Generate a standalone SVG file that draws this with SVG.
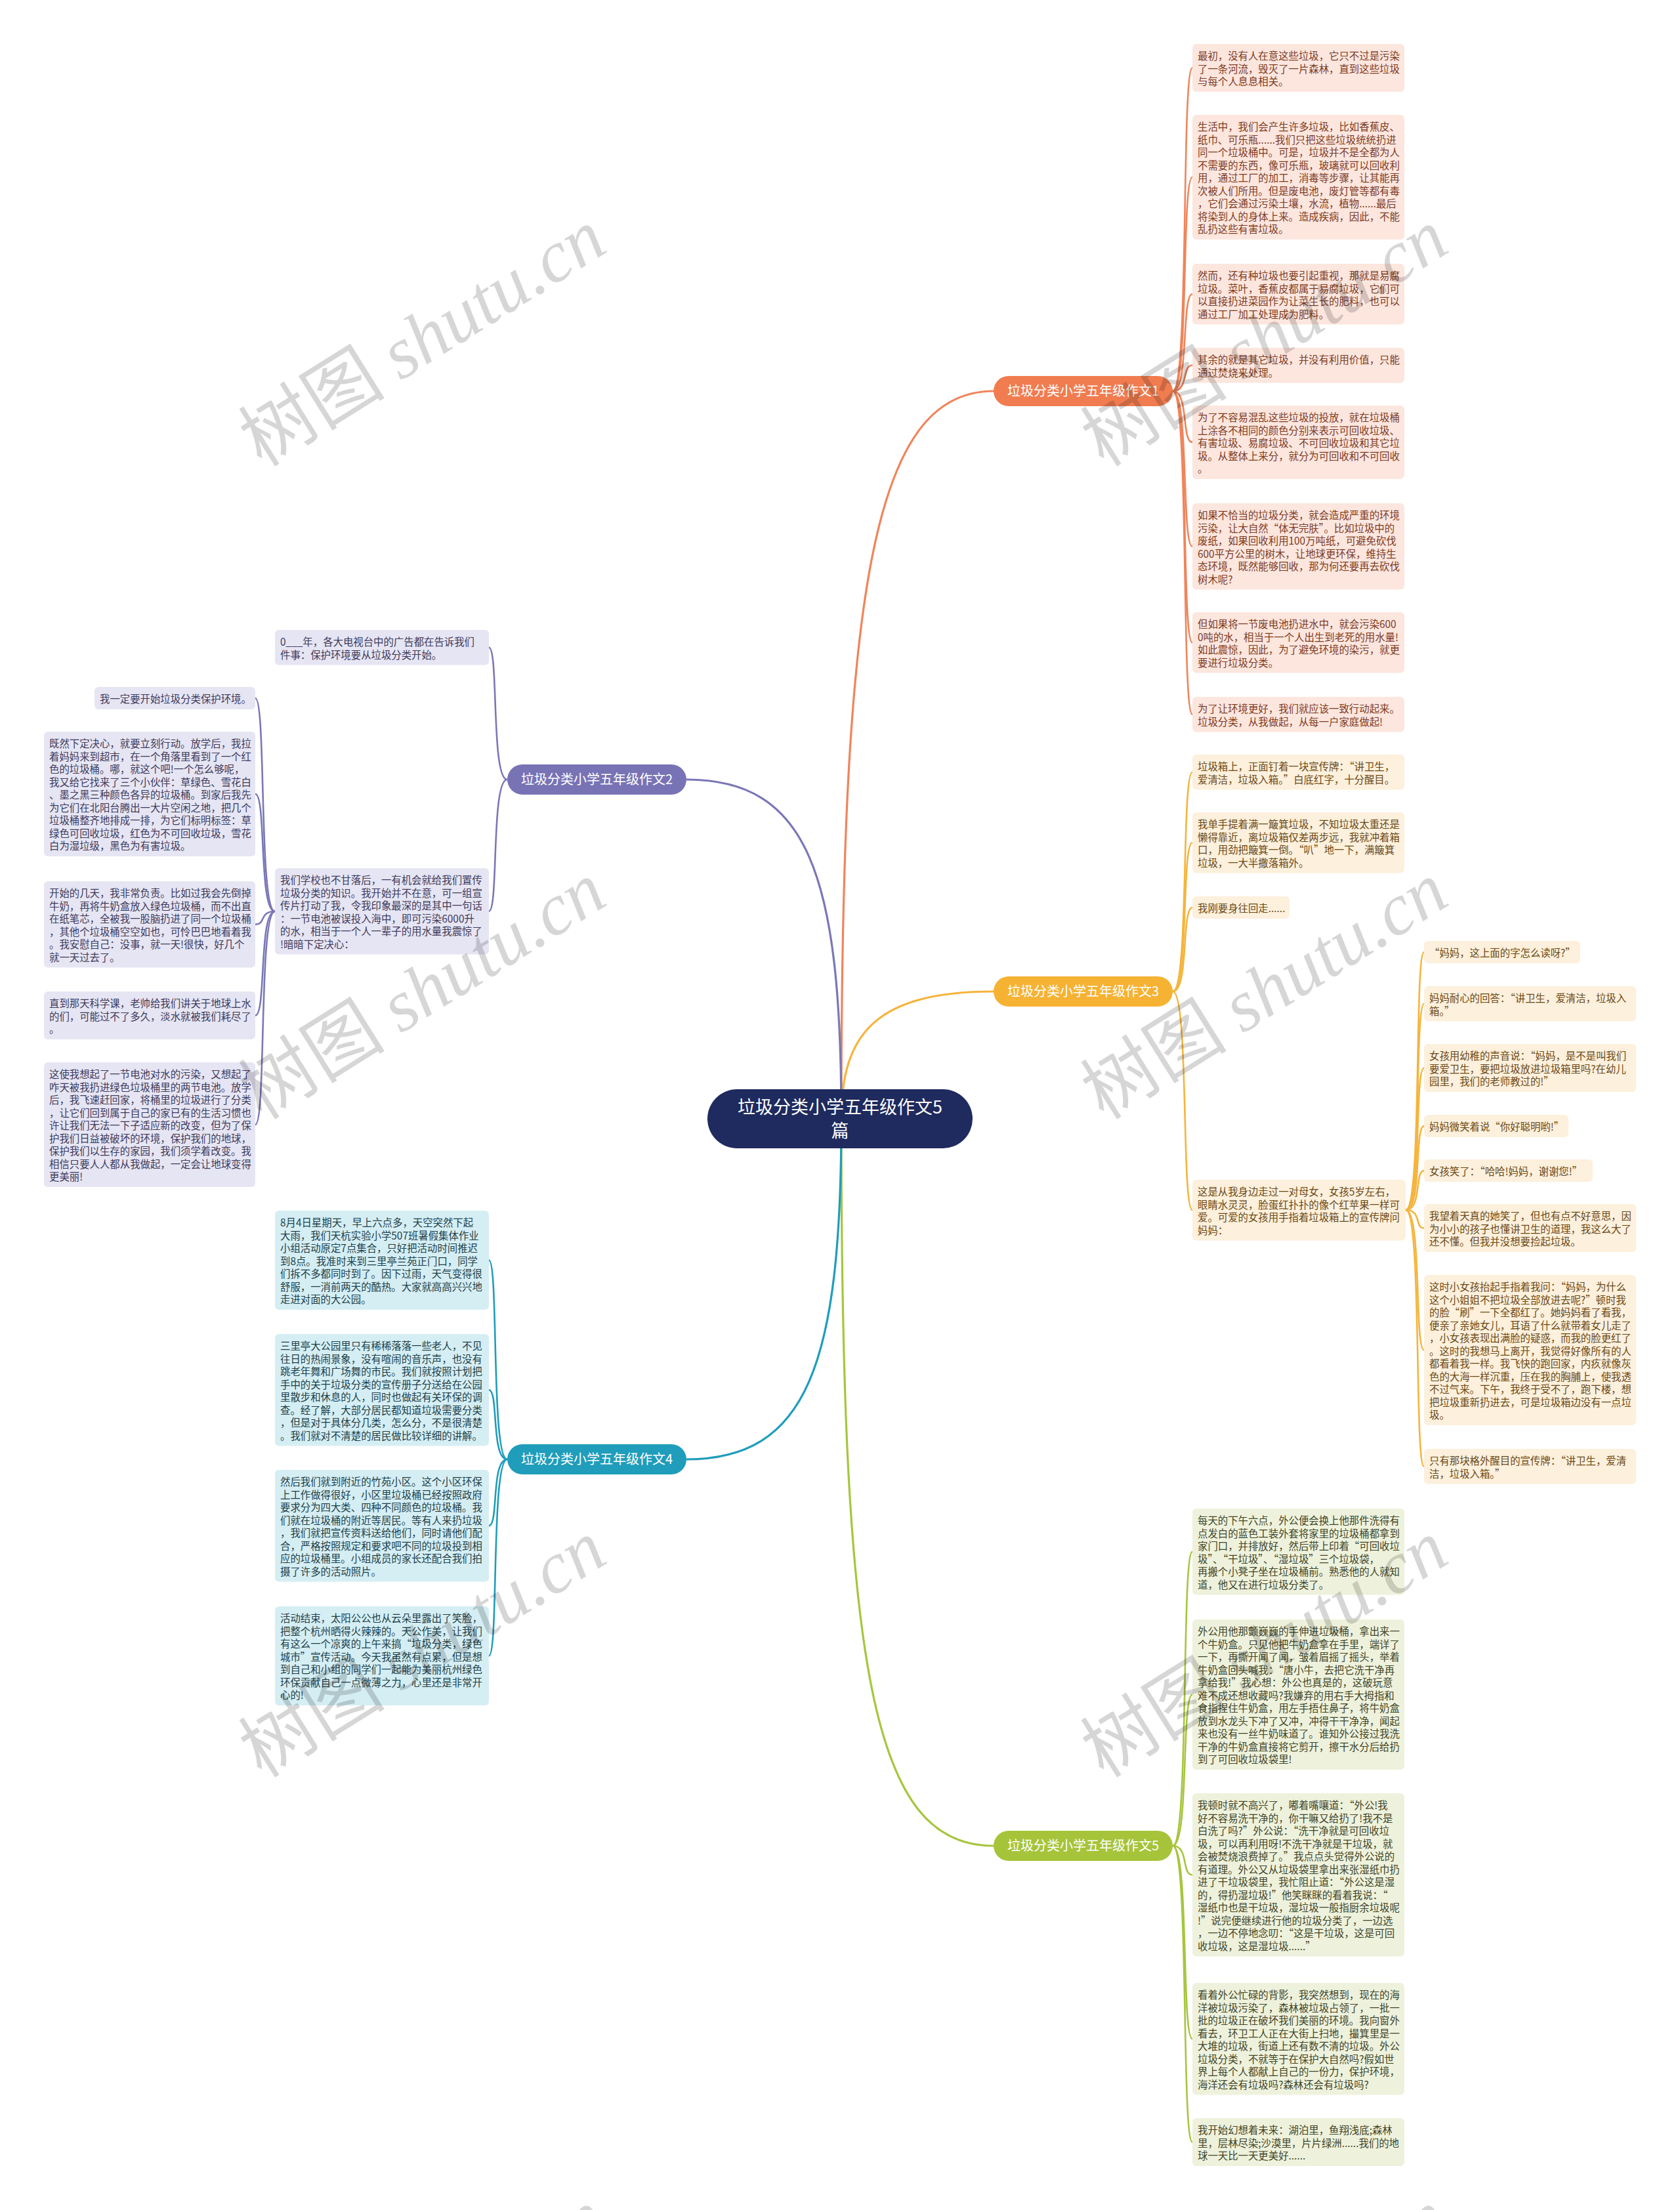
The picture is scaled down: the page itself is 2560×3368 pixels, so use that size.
<svg xmlns="http://www.w3.org/2000/svg" width="2560" height="3368" viewBox="0 0 2560 3368">
<style>
text{font-family:"Noto Sans CJK SC","Noto Sans",sans-serif;}
.lt{font-size:15.4px;}
.c1{stroke:#f0845a;}
.c2{stroke:#7b77b7;}
.c3{stroke:#f5b43c;}
.c4{stroke:#1f9dbb;}
.c5{stroke:#a7c53e;}
.con path{fill:none;stroke-width:2.6;}
.con path.m{stroke-width:3.2;}
.b1{fill:#fce6de;} .f1{fill:#7e3a1f;}
.b2{fill:#e6e5f3;} .f2{fill:#3c3a5c;}
.b3{fill:#fdf0dc;} .f3{fill:#6a4816;}
.b4{fill:#d5eef4;} .f4{fill:#1c3f49;}
.b5{fill:#eef2dc;} .f5{fill:#3f4428;}
.nt{font-size:20px;fill:#fff;text-anchor:middle;}
.wm{font-size:112px;fill:#000;fill-opacity:0.16;text-anchor:middle;}
.wm .la{font-family:"Liberation Serif",serif;font-style:italic;}
</style>

<g id="connectors" class="con">
  <path class="m c1" d="M1282 1705 C1282 900 1330 596 1514 596"/>
  <path class="m c3" d="M1282 1705 C1282 1580 1330 1511 1514 1511"/>
  <path class="m c5" d="M1282 1705 C1282 2550 1330 2813 1514 2813"/>
  <path class="m c2" d="M1282 1705 C1282 1330 1230 1188 1046 1188"/>
  <path class="m c4" d="M1282 1705 C1282 2080 1230 2224 1046 2224"/>

  <path class="c1" d="M1787 596 C1812 596 1800 103.5 1817 103.5"/>
  <path class="c1" d="M1787 596 C1812 596 1800 270 1817 270"/>
  <path class="c1" d="M1787 596 C1812 596 1800 448.25 1817 448.25"/>
  <path class="c1" d="M1787 596 C1812 596 1800 556.75 1817 556.75"/>
  <path class="c1" d="M1787 596 C1812 596 1800 674 1817 674"/>
  <path class="c1" d="M1787 596 C1812 596 1800 832.75 1817 832.75"/>
  <path class="c1" d="M1787 596 C1812 596 1800 979.25 1817 979.25"/>
  <path class="c1" d="M1787 596 C1812 596 1800 1088.75 1817 1088.75"/>

  <path class="c3" d="M1787 1511 C1812 1511 1800 1176.75 1817 1176.75"/>
  <path class="c3" d="M1787 1511 C1812 1511 1800 1284.25 1817 1284.25"/>
  <path class="c3" d="M1787 1511 C1812 1511 1800 1383 1817 1383"/>
  <path class="c3" d="M1787 1511 C1812 1511 1800 1844.25 1817 1844.25"/>

  <path class="c3" d="M2142 1844 C2167 1844 2155 1451 2170 1451"/>
  <path class="c3" d="M2142 1844 C2167 1844 2155 1529.75 2170 1529.75"/>
  <path class="c3" d="M2142 1844 C2167 1844 2155 1627.5 2170 1627.5"/>
  <path class="c3" d="M2142 1844 C2167 1844 2155 1716 2170 1716"/>
  <path class="c3" d="M2142 1844 C2167 1844 2155 1784 2170 1784"/>
  <path class="c3" d="M2142 1844 C2167 1844 2155 1871.5 2170 1871.5"/>
  <path class="c3" d="M2142 1844 C2167 1844 2155 2057.5 2170 2057.5"/>
  <path class="c3" d="M2142 1844 C2167 1844 2155 2234.75 2170 2234.75"/>

  <path class="c5" d="M1787 2813 C1812 2813 1800 2364.75 1817 2364.75"/>
  <path class="c5" d="M1787 2813 C1812 2813 1800 2582.5 1817 2582.5"/>
  <path class="c5" d="M1787 2813 C1812 2813 1800 2857.25 1817 2857.25"/>
  <path class="c5" d="M1787 2813 C1812 2813 1800 3107.25 1817 3107.25"/>
  <path class="c5" d="M1787 2813 C1812 2813 1800 3264.5 1817 3264.5"/>

  <path class="c2" d="M773 1188 C748 1188 760 986.75 745 986.75"/>
  <path class="c2" d="M773 1188 C748 1188 760 1388.75 745 1388.75"/>

  <path class="c2" d="M419 1389 C394 1389 406 1064 389 1064"/>
  <path class="c2" d="M419 1389 C394 1389 406 1210 389 1210"/>
  <path class="c2" d="M419 1389 C394 1389 406 1408.75 389 1408.75"/>
  <path class="c2" d="M419 1389 C394 1389 406 1547.5 389 1547.5"/>
  <path class="c2" d="M419 1389 C394 1389 406 1714 389 1714"/>

  <path class="c4" d="M773 2224 C748 2224 760 1920.5 745 1920.5"/>
  <path class="c4" d="M773 2224 C748 2224 760 2118.25 745 2118.25"/>
  <path class="c4" d="M773 2224 C748 2224 760 2325.25 745 2325.25"/>
  <path class="c4" d="M773 2224 C748 2224 760 2523.5 745 2523.5"/>
</g>

<g id="root">
  <rect x="1078" y="1660" width="404" height="90" rx="45" fill="#1f2a5e"/>
  <text x="1280" y="1697" font-size="27" fill="#fff" text-anchor="middle">垃圾分类小学五年级作文5</text>
  <text x="1280" y="1733" font-size="27" fill="#fff" text-anchor="middle">篇</text>
</g>

<g id="branch1">
  <rect x="1514" y="573" width="273" height="46" rx="23" fill="#f07c50"/>
  <text class="nt" x="1650.5" y="603">垃圾分类小学五年级作文1</text>
</g>
<g id="branch2">
  <rect x="773" y="1165" width="273" height="46" rx="23" fill="#7873b5"/>
  <text class="nt" x="909.5" y="1195">垃圾分类小学五年级作文2</text>
</g>
<g id="branch3">
  <rect x="1514" y="1488" width="273" height="46" rx="23" fill="#f6b233"/>
  <text class="nt" x="1650.5" y="1518">垃圾分类小学五年级作文3</text>
</g>
<g id="branch4">
  <rect x="773" y="2201" width="273" height="46" rx="23" fill="#1f9dbb"/>
  <text class="nt" x="909.5" y="2231">垃圾分类小学五年级作文4</text>
</g>
<g id="branch5">
  <rect x="1514" y="2790" width="273" height="46" rx="23" fill="#a6c43a"/>
  <text class="nt" x="1650.5" y="2820">垃圾分类小学五年级作文5</text>
</g>

<!-- branch 1 leaves -->
<g id="b1-l1"><rect class="b1" x="1817" y="67" width="323" height="73" rx="6"/>
<text class="lt f1" x="1825" y="91.4"><tspan x="1825">最初，没有人在意这些垃圾，它只不过是污染</tspan><tspan x="1825" dy="19.5">了一条河流，毁灭了一片森林，直到这些垃圾</tspan><tspan x="1825" dy="19.5">与每个人息息相关。</tspan></text></g>
<g id="b1-l2"><rect class="b1" x="1817" y="175" width="323" height="190" rx="6"/>
<text class="lt f1" x="1825" y="199.4"><tspan x="1825">生活中，我们会产生许多垃圾，比如香蕉皮、</tspan><tspan x="1825" dy="19.5">纸巾、可乐瓶......我们只把这些垃圾统统扔进</tspan><tspan x="1825" dy="19.5">同一个垃圾桶中。可是，垃圾并不是全都为人</tspan><tspan x="1825" dy="19.5">不需要的东西，像可乐瓶，玻璃就可以回收利</tspan><tspan x="1825" dy="19.5">用，通过工厂的加工，消毒等步骤，让其能再</tspan><tspan x="1825" dy="19.5">次被人们所用。但是废电池，废灯管等都有毒</tspan><tspan x="1825" dy="19.5">，它们会通过污染土壤，水流，植物......最后</tspan><tspan x="1825" dy="19.5">将染到人的身体上来。造成疾病，因此，不能</tspan><tspan x="1825" dy="19.5">乱扔这些有害垃圾。</tspan></text></g>
<g id="b1-l3"><rect class="b1" x="1817" y="402" width="323" height="92.5" rx="6"/>
<text class="lt f1" x="1825" y="426.4"><tspan x="1825">然而，还有种垃圾也要引起重视，那就是易腐</tspan><tspan x="1825" dy="19.5">垃圾。菜叶，香蕉皮都属于易腐垃圾，它们可</tspan><tspan x="1825" dy="19.5">以直接扔进菜园作为让菜生长的肥料，也可以</tspan><tspan x="1825" dy="19.5">通过工厂加工处理成为肥料。</tspan></text></g>
<g id="b1-l4"><rect class="b1" x="1817" y="530" width="323" height="53.5" rx="6"/>
<text class="lt f1" x="1825" y="554.4"><tspan x="1825">其余的就是其它垃圾，并没有利用价值，只能</tspan><tspan x="1825" dy="19.5">通过焚烧来处理。</tspan></text></g>
<g id="b1-l5"><rect class="b1" x="1817" y="618" width="323" height="112" rx="6"/>
<text class="lt f1" x="1825" y="642.4"><tspan x="1825">为了不容易混乱这些垃圾的投放，就在垃圾桶</tspan><tspan x="1825" dy="19.5">上涂各不相同的颜色分别来表示可回收垃圾、</tspan><tspan x="1825" dy="19.5">有害垃圾、易腐垃圾、不可回收垃圾和其它垃</tspan><tspan x="1825" dy="19.5">圾。从整体上来分，就分为可回收和不可回收</tspan><tspan x="1825" dy="19.5">。</tspan></text></g>
<g id="b1-l6"><rect class="b1" x="1817" y="767" width="323" height="131.5" rx="6"/>
<text class="lt f1" x="1825" y="791.4"><tspan x="1825">如果不恰当的垃圾分类，就会造成严重的环境</tspan><tspan x="1825" dy="19.5">污染，让大自然“体无完肤”。比如垃圾中的</tspan><tspan x="1825" dy="19.5">废纸，如果回收利用100万吨纸，可避免砍伐</tspan><tspan x="1825" dy="19.5">600平方公里的树木，让地球更环保，维持生</tspan><tspan x="1825" dy="19.5">态环境，既然能够回收，那为何还要再去砍伐</tspan><tspan x="1825" dy="19.5">树木呢?</tspan></text></g>
<g id="b1-l7"><rect class="b1" x="1817" y="933" width="323" height="92.5" rx="6"/>
<text class="lt f1" x="1825" y="957.4"><tspan x="1825">但如果将一节废电池扔进水中，就会污染600</tspan><tspan x="1825" dy="19.5">0吨的水，相当于一个人出生到老死的用水量!</tspan><tspan x="1825" dy="19.5">如此震惊，因此，为了避免环境的染污，就更</tspan><tspan x="1825" dy="19.5">要进行垃圾分类。</tspan></text></g>
<g id="b1-l8"><rect class="b1" x="1817" y="1062" width="323" height="53.5" rx="6"/>
<text class="lt f1" x="1825" y="1086.4"><tspan x="1825">为了让环境更好，我们就应该一致行动起来。</tspan><tspan x="1825" dy="19.5">垃圾分类，从我做起，从每一户家庭做起!</tspan></text></g>

<!-- branch 3 leaves -->
<g id="b3-l1"><rect class="b3" x="1817" y="1150" width="323" height="53.5" rx="6"/>
<text class="lt f3" x="1825" y="1174.4"><tspan x="1825">垃圾箱上，正面钉着一块宣传牌：“讲卫生，</tspan><tspan x="1825" dy="19.5">爱清洁，垃圾入箱。”白底红字，十分醒目。</tspan></text></g>
<g id="b3-l2"><rect class="b3" x="1817" y="1238" width="323" height="92.5" rx="6"/>
<text class="lt f3" x="1825" y="1262.4"><tspan x="1825">我单手提着满一簸箕垃圾，不知垃圾太重还是</tspan><tspan x="1825" dy="19.5">懒得靠近，离垃圾箱仅差两步远，我就冲着箱</tspan><tspan x="1825" dy="19.5">口，用劲把簸箕一倒。“叭”地一下，满簸箕</tspan><tspan x="1825" dy="19.5">垃圾，一大半撒落箱外。</tspan></text></g>
<g id="b3-l3"><rect class="b3" x="1817" y="1366" width="148" height="34" rx="6"/>
<text class="lt f3" x="1825" y="1390.4">我刚要身往回走......</text></g>
<g id="b3-l4"><rect class="b3" x="1817" y="1798" width="325" height="92.5" rx="6"/>
<text class="lt f3" x="1825" y="1822.4"><tspan x="1825">这是从我身边走过一对母女，女孩5岁左右，</tspan><tspan x="1825" dy="19.5">眼睛水灵灵，脸蛋红扑扑的像个红苹果一样可</tspan><tspan x="1825" dy="19.5">爱。可爱的女孩用手指着垃圾箱上的宣传牌问</tspan><tspan x="1825" dy="19.5">妈妈：</tspan></text></g>

<g id="b3-s1"><rect class="b3" x="2170" y="1434" width="238" height="34" rx="6"/>
<text class="lt f3" x="2178" y="1458.4">“妈妈，这上面的字怎么读呀?”</text></g>
<g id="b3-s2"><rect class="b3" x="2170" y="1503" width="323" height="53.5" rx="6"/>
<text class="lt f3" x="2178" y="1527.4"><tspan x="2178">妈妈耐心的回答：“讲卫生，爱清洁，垃圾入</tspan><tspan x="2178" dy="19.5">箱。”</tspan></text></g>
<g id="b3-s3"><rect class="b3" x="2170" y="1591" width="323" height="73" rx="6"/>
<text class="lt f3" x="2178" y="1615.4"><tspan x="2178">女孩用幼稚的声音说：“妈妈，是不是叫我们</tspan><tspan x="2178" dy="19.5">要爱卫生，要把垃圾放进垃圾箱里吗?在幼儿</tspan><tspan x="2178" dy="19.5">园里，我们的老师教过的!”</tspan></text></g>
<g id="b3-s4"><rect class="b3" x="2170" y="1699" width="220" height="34" rx="6"/>
<text class="lt f3" x="2178" y="1723.4">妈妈微笑着说“你好聪明哟!”</text></g>
<g id="b3-s5"><rect class="b3" x="2170" y="1767" width="257" height="34" rx="6"/>
<text class="lt f3" x="2178" y="1791.4">女孩笑了：“哈哈!妈妈，谢谢您!”</text></g>
<g id="b3-s6"><rect class="b3" x="2170" y="1835" width="323" height="73" rx="6"/>
<text class="lt f3" x="2178" y="1859.4"><tspan x="2178">我望着天真的她笑了，但也有点不好意思，因</tspan><tspan x="2178" dy="19.5">为小小的孩子也懂讲卫生的道理，我这么大了</tspan><tspan x="2178" dy="19.5">还不懂。但我并没想要捡起垃圾。</tspan></text></g>
<g id="b3-s7"><rect class="b3" x="2170" y="1943" width="323" height="229" rx="6"/>
<text class="lt f3" x="2178" y="1967.4"><tspan x="2178">这时小女孩抬起手指着我问：“妈妈，为什么</tspan><tspan x="2178" dy="19.5">这个小姐姐不把垃圾全部放进去呢?”顿时我</tspan><tspan x="2178" dy="19.5">的脸“刷”一下全都红了。她妈妈看了看我，</tspan><tspan x="2178" dy="19.5">便亲了亲她女儿，耳语了什么就带着女儿走了</tspan><tspan x="2178" dy="19.5">，小女孩表现出满脸的疑惑，而我的脸更红了</tspan><tspan x="2178" dy="19.5">。这时的我想马上离开，我觉得好像所有的人</tspan><tspan x="2178" dy="19.5">都看着我一样。我飞快的跑回家，内疚就像灰</tspan><tspan x="2178" dy="19.5">色的大海一样沉重，压在我的胸脯上，使我透</tspan><tspan x="2178" dy="19.5">不过气来。下午，我终于受不了，跑下楼，想</tspan><tspan x="2178" dy="19.5">把垃圾重新扔进去，可是垃圾箱边没有一点垃</tspan><tspan x="2178" dy="19.5">圾。</tspan></text></g>
<g id="b3-s8"><rect class="b3" x="2170" y="2208" width="323" height="53.5" rx="6"/>
<text class="lt f3" x="2178" y="2232.4"><tspan x="2178">只有那块格外醒目的宣传牌：“讲卫生，爱清</tspan><tspan x="2178" dy="19.5">洁，垃圾入箱。”</tspan></text></g>

<!-- branch 5 leaves -->
<g id="b5-l1"><rect class="b5" x="1817" y="2299" width="323" height="131.5" rx="6"/>
<text class="lt f5" x="1825" y="2323.4"><tspan x="1825">每天的下午六点，外公便会换上他那件洗得有</tspan><tspan x="1825" dy="19.5">点发白的蓝色工装外套将家里的垃圾桶都拿到</tspan><tspan x="1825" dy="19.5">家门口，并排放好，然后带上印着“可回收垃</tspan><tspan x="1825" dy="19.5">圾”、“干垃圾”、“湿垃圾”三个垃圾袋，</tspan><tspan x="1825" dy="19.5">再搬个小凳子坐在垃圾桶前。熟悉他的人就知</tspan><tspan x="1825" dy="19.5">道，他又在进行垃圾分类了。</tspan></text></g>
<g id="b5-l2"><rect class="b5" x="1817" y="2468" width="323" height="229" rx="6"/>
<text class="lt f5" x="1825" y="2492.4"><tspan x="1825">外公用他那颤巍巍的手伸进垃圾桶，拿出来一</tspan><tspan x="1825" dy="19.5">个牛奶盒。只见他把牛奶盒拿在手里，端详了</tspan><tspan x="1825" dy="19.5">一下，再撕开闻了闻，皱着眉摇了摇头，举着</tspan><tspan x="1825" dy="19.5">牛奶盒回头喊我：“唐小牛，去把它洗干净再</tspan><tspan x="1825" dy="19.5">拿给我!”我心想：外公也真是的，这破玩意</tspan><tspan x="1825" dy="19.5">难不成还想收藏吗?我嫌弃的用右手大拇指和</tspan><tspan x="1825" dy="19.5">食指捏住牛奶盒，用左手捂住鼻子，将牛奶盒</tspan><tspan x="1825" dy="19.5">放到水龙头下冲了又冲，冲得干干净净，闻起</tspan><tspan x="1825" dy="19.5">来也没有一丝牛奶味道了。谁知外公接过我洗</tspan><tspan x="1825" dy="19.5">干净的牛奶盒直接将它剪开，擦干水分后给扔</tspan><tspan x="1825" dy="19.5">到了可回收垃圾袋里!</tspan></text></g>
<g id="b5-l3"><rect class="b5" x="1817" y="2733" width="323" height="248.5" rx="6"/>
<text class="lt f5" x="1825" y="2757.4"><tspan x="1825">我顿时就不高兴了，嘟着嘴嚷道：“外公!我</tspan><tspan x="1825" dy="19.5">好不容易洗干净的，你干嘛又给扔了!我不是</tspan><tspan x="1825" dy="19.5">白洗了吗?”外公说：“洗干净就是可回收垃</tspan><tspan x="1825" dy="19.5">圾，可以再利用呀!不洗干净就是干垃圾，就</tspan><tspan x="1825" dy="19.5">会被焚烧浪费掉了。”我点点头觉得外公说的</tspan><tspan x="1825" dy="19.5">有道理。外公又从垃圾袋里拿出来张湿纸巾扔</tspan><tspan x="1825" dy="19.5">进了干垃圾袋里，我忙阻止道：“外公这是湿</tspan><tspan x="1825" dy="19.5">的，得扔湿垃圾!”他笑眯眯的看着我说：“</tspan><tspan x="1825" dy="19.5">湿纸巾也是干垃圾，湿垃圾一般指厨余垃圾呢</tspan><tspan x="1825" dy="19.5">!”说完便继续进行他的垃圾分类了，一边选</tspan><tspan x="1825" dy="19.5">，一边不停地念叨：“这是干垃圾，这是可回</tspan><tspan x="1825" dy="19.5">收垃圾，这是湿垃圾......”</tspan></text></g>
<g id="b5-l4"><rect class="b5" x="1817" y="3022" width="323" height="170.5" rx="6"/>
<text class="lt f5" x="1825" y="3046.4"><tspan x="1825">看着外公忙碌的背影，我突然想到，现在的海</tspan><tspan x="1825" dy="19.5">洋被垃圾污染了，森林被垃圾占领了，一批一</tspan><tspan x="1825" dy="19.5">批的垃圾正在破坏我们美丽的环境。我向窗外</tspan><tspan x="1825" dy="19.5">看去，环卫工人正在大街上扫地，撮箕里是一</tspan><tspan x="1825" dy="19.5">大堆的垃圾，街道上还有数不清的垃圾。外公</tspan><tspan x="1825" dy="19.5">垃圾分类，不就等于在保护大自然吗?假如世</tspan><tspan x="1825" dy="19.5">界上每个人都献上自己的一份力，保护环境，</tspan><tspan x="1825" dy="19.5">海洋还会有垃圾吗?森林还会有垃圾吗?</tspan></text></g>
<g id="b5-l5"><rect class="b5" x="1817" y="3228" width="323" height="73" rx="6"/>
<text class="lt f5" x="1825" y="3252.4"><tspan x="1825">我开始幻想着未来：湖泊里，鱼翔浅底;森林</tspan><tspan x="1825" dy="19.5">里，层林尽染;沙漠里，片片绿洲......我们的地</tspan><tspan x="1825" dy="19.5">球一天比一天更美好......</tspan></text></g>

<!-- branch 2 leaves -->
<g id="b2-l1"><rect class="b2" x="419" y="960" width="326" height="53.5" rx="6"/>
<text class="lt f2" x="427" y="984.4"><tspan x="427">0___年，各大电视台中的广告都在告诉我们</tspan><tspan x="427" dy="19.5">件事：保护环境要从垃圾分类开始。</tspan></text></g>
<g id="b2-l2"><rect class="b2" x="419" y="1323" width="326" height="131.5" rx="6"/>
<text class="lt f2" x="427" y="1347.4"><tspan x="427">我们学校也不甘落后，一有机会就给我们置传</tspan><tspan x="427" dy="19.5">垃圾分类的知识。我开始并不在意，可一组宣</tspan><tspan x="427" dy="19.5">传片打动了我，令我印象最深的是其中一句话</tspan><tspan x="427" dy="19.5">：一节电池被误投入海中，即可污染6000升</tspan><tspan x="427" dy="19.5">的水，相当于一个人一辈子的用水量我震惊了</tspan><tspan x="427" dy="19.5">!暗暗下定决心：</tspan></text></g>
<g id="b2-s1"><rect class="b2" x="144" y="1047" width="245" height="34" rx="6"/>
<text class="lt f2" x="152" y="1071.4">我一定要开始垃圾分类保护环境。</text></g>
<g id="b2-s2"><rect class="b2" x="67" y="1115" width="322" height="190" rx="6"/>
<text class="lt f2" x="75" y="1139.4"><tspan x="75">既然下定决心，就要立刻行动。放学后，我拉</tspan><tspan x="75" dy="19.5">着妈妈来到超市，在一个角落里看到了一个红</tspan><tspan x="75" dy="19.5">色的垃圾桶。哪，就这个吧!一个怎么够呢，</tspan><tspan x="75" dy="19.5">我又给它找来了三个小伙伴：草绿色、雪花白</tspan><tspan x="75" dy="19.5">、墨之黑三种颜色各异的垃圾桶。到家后我先</tspan><tspan x="75" dy="19.5">为它们在北阳台腾出一大片空闲之地，把几个</tspan><tspan x="75" dy="19.5">垃圾桶整齐地排成一排，为它们标明标签：草</tspan><tspan x="75" dy="19.5">绿色可回收垃圾，红色为不可回收垃圾，雪花</tspan><tspan x="75" dy="19.5">白为湿垃级，黑色为有害垃圾。</tspan></text></g>
<g id="b2-s3"><rect class="b2" x="67" y="1343" width="322" height="131.5" rx="6"/>
<text class="lt f2" x="75" y="1367.4"><tspan x="75">开始的几天，我非常负责。比如过我会先倒掉</tspan><tspan x="75" dy="19.5">牛奶，再将牛奶盒放入绿色垃圾桶，而不出直</tspan><tspan x="75" dy="19.5">在纸笔芯，全被我一股脑扔进了同一个垃圾桶</tspan><tspan x="75" dy="19.5">，其他个垃圾桶空空如也，可怜巴巴地看着我</tspan><tspan x="75" dy="19.5">。我安慰自己：没事，就一天!很快，好几个</tspan><tspan x="75" dy="19.5">就一天过去了。</tspan></text></g>
<g id="b2-s4"><rect class="b2" x="67" y="1511" width="322" height="73" rx="6"/>
<text class="lt f2" x="75" y="1535.4"><tspan x="75">直到那天科学课，老帅给我们讲关于地球上水</tspan><tspan x="75" dy="19.5">的们，可能过不了多久，淡水就被我们耗尽了</tspan><tspan x="75" dy="19.5">。</tspan></text></g>
<g id="b2-s5"><rect class="b2" x="67" y="1619" width="322" height="190" rx="6"/>
<text class="lt f2" x="75" y="1643.4"><tspan x="75">这使我想起了一节电池对水的污染，又想起了</tspan><tspan x="75" dy="19.5">咋天被我扔进绿色垃圾桶里的两节电池。放学</tspan><tspan x="75" dy="19.5">后，我飞速赶回家，将桶里的垃圾进行了分类</tspan><tspan x="75" dy="19.5">，让它们回到属于自己的家已有的生活习惯也</tspan><tspan x="75" dy="19.5">许让我们无法一下子适应新的改变，但为了保</tspan><tspan x="75" dy="19.5">护我们日益被破坏的环境，保护我们的地球，</tspan><tspan x="75" dy="19.5">保护我们以生存的家园，我们须学着改变。我</tspan><tspan x="75" dy="19.5">相信只要人人都从我做起，一定会让地球变得</tspan><tspan x="75" dy="19.5">更美丽!</tspan></text></g>

<!-- branch 4 leaves -->
<g id="b4-l1"><rect class="b4" x="419" y="1845" width="326" height="151" rx="6"/>
<text class="lt f4" x="427" y="1869.4"><tspan x="427">8月4日星期天，早上六点多，天空突然下起</tspan><tspan x="427" dy="19.5">大雨，我们天杭实验小学507班暑假集体作业</tspan><tspan x="427" dy="19.5">小组活动原定7点集合，只好把活动时间推迟</tspan><tspan x="427" dy="19.5">到8点。我准时来到三里亭兰苑正门口，同学</tspan><tspan x="427" dy="19.5">们拆不多都同时到了。因下过雨，天气变得很</tspan><tspan x="427" dy="19.5">舒服，一消前两天的酷热。大家就高高兴兴地</tspan><tspan x="427" dy="19.5">走进对面的大公园。</tspan></text></g>
<g id="b4-l2"><rect class="b4" x="419" y="2033" width="326" height="170.5" rx="6"/>
<text class="lt f4" x="427" y="2057.4"><tspan x="427">三里亭大公园里只有稀稀落落一些老人，不见</tspan><tspan x="427" dy="19.5">往日的热闹景象，没有喧闹的音乐声，也没有</tspan><tspan x="427" dy="19.5">跳老年舞和广场舞的市民。我们就按照计划把</tspan><tspan x="427" dy="19.5">手中的关于垃圾分类的宣传册子分送给在公园</tspan><tspan x="427" dy="19.5">里散步和休息的人，同时也做起有关环保的调</tspan><tspan x="427" dy="19.5">查。经了解，大部分居民都知道垃圾需要分类</tspan><tspan x="427" dy="19.5">，但是对于具体分几类，怎么分，不是很清楚</tspan><tspan x="427" dy="19.5">。我们就对不清楚的居民做比较详细的讲解。</tspan></text></g>
<g id="b4-l3"><rect class="b4" x="419" y="2240" width="326" height="170.5" rx="6"/>
<text class="lt f4" x="427" y="2264.4"><tspan x="427">然后我们就到附近的竹苑小区。这个小区环保</tspan><tspan x="427" dy="19.5">上工作做得很好，小区里垃圾桶已经按照政府</tspan><tspan x="427" dy="19.5">要求分为四大类、四种不同颜色的垃圾桶。我</tspan><tspan x="427" dy="19.5">们就在垃圾桶的附近等居民。等有人来扔垃圾</tspan><tspan x="427" dy="19.5">，我们就把宣传资料送给他们，同时请他们配</tspan><tspan x="427" dy="19.5">合，严格按照规定和要求吧不同的垃圾投到相</tspan><tspan x="427" dy="19.5">应的垃圾桶里。小组成员的家长还配合我们拍</tspan><tspan x="427" dy="19.5">摄了许多的活动照片。</tspan></text></g>
<g id="b4-l4"><rect class="b4" x="419" y="2448" width="326" height="151" rx="6"/>
<text class="lt f4" x="427" y="2472.4"><tspan x="427">活动结束，太阳公公也从云朵里露出了笑脸，</tspan><tspan x="427" dy="19.5">把整个杭州晒得火辣辣的。天公作美，让我们</tspan><tspan x="427" dy="19.5">有这么一个凉爽的上午来搞“垃圾分类，绿色</tspan><tspan x="427" dy="19.5">城市”宣传活动。今天我虽然有点累，但是想</tspan><tspan x="427" dy="19.5">到自己和小组的同学们一起能为美丽杭州绿色</tspan><tspan x="427" dy="19.5">环保贡献自己一点微薄之力，心里还是非常开</tspan><tspan x="427" dy="19.5">心的!</tspan></text></g>

<g id="watermarks" class="wm">
  <text transform="translate(644 515) rotate(-32)" y="38">树图 <tspan class="la">shutu.cn</tspan></text>
  <text transform="translate(1927 515) rotate(-32)" y="38">树图 <tspan class="la">shutu.cn</tspan></text>
  <text transform="translate(644 1510) rotate(-32)" y="38">树图 <tspan class="la">shutu.cn</tspan></text>
  <text transform="translate(1927 1510) rotate(-32)" y="38">树图 <tspan class="la">shutu.cn</tspan></text>
  <text transform="translate(644 2513) rotate(-32)" y="38">树图 <tspan class="la">shutu.cn</tspan></text>
  <text transform="translate(1927 2513) rotate(-32)" y="38">树图 <tspan class="la">shutu.cn</tspan></text>
  <text transform="translate(644 3533) rotate(-32)" y="38">树图 <tspan class="la">shutu.cn</tspan></text>
  <text transform="translate(1927 3533) rotate(-32)" y="38">树图 <tspan class="la">shutu.cn</tspan></text>
</g>
</svg>
